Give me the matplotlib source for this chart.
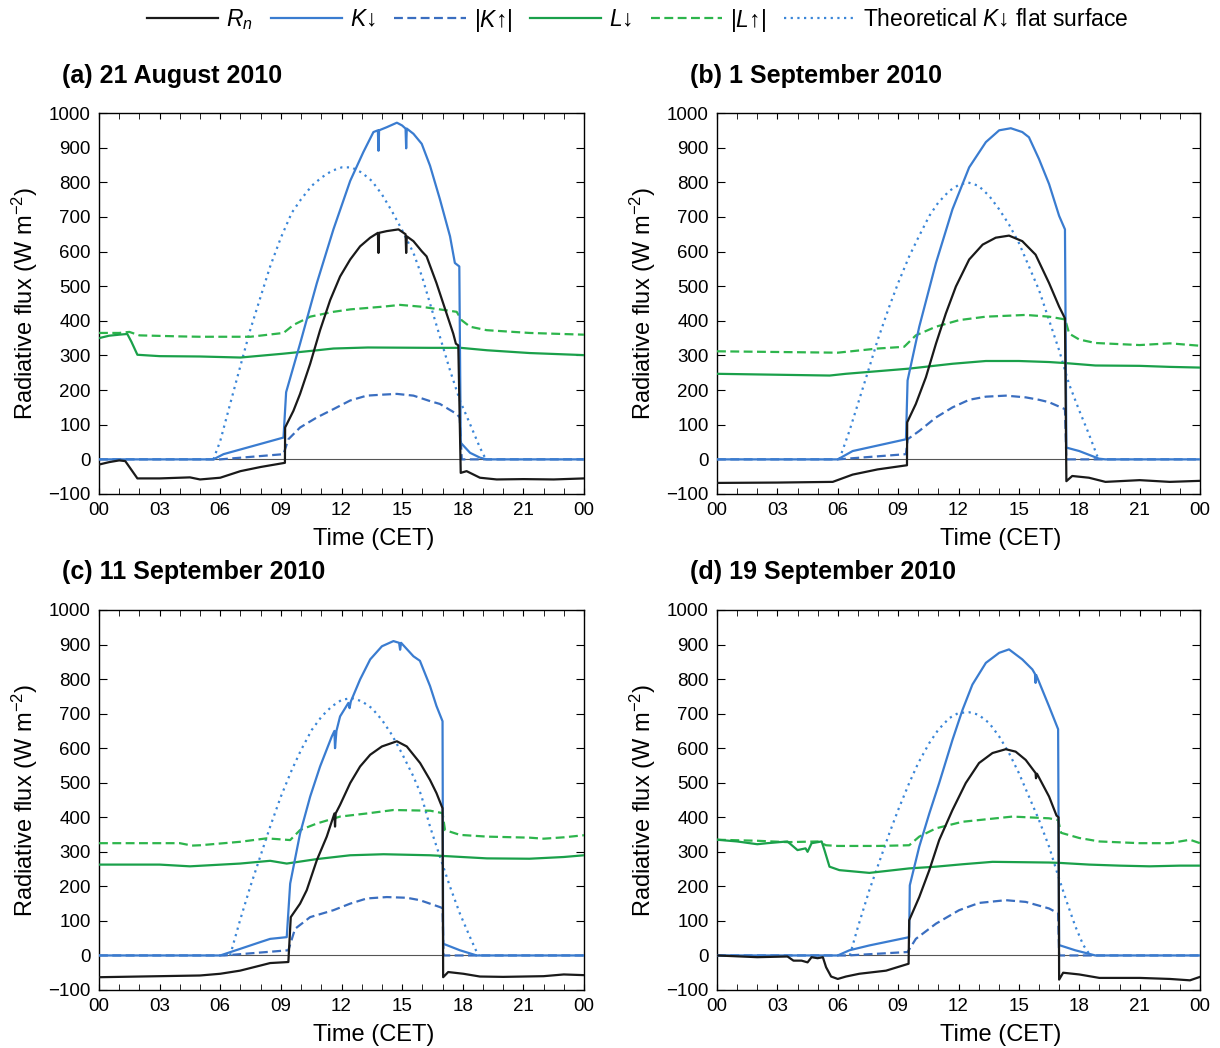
import matplotlib
matplotlib.use('Agg')
import matplotlib.pyplot as plt
from matplotlib.ticker import MultipleLocator
from matplotlib.lines import Line2D

plt.rcParams['font.family'] = ['Liberation Sans', 'DejaVu Sans']
plt.rcParams['mathtext.fontset'] = 'custom'
plt.rcParams['mathtext.rm'] = 'Liberation Sans'
plt.rcParams['mathtext.it'] = 'Liberation Sans:italic'

# ---- (a) 21 August 2010 ----
a_rn_t = [0, 0.5, 1.0, 1.3, 1.6, 1.9, 3, 4.5, 5.0, 6.0, 7.0, 8.0, 9.2, 9.21, 9.62, 9.95, 10.45, 10.94, 11.44,
          11.93, 12.43, 12.92, 13.42, 13.8, 13.83, 13.86, 14.24, 14.82, 15.17, 15.2, 15.23, 15.56, 15.97,
          16.21, 16.7, 17.2, 17.53, 17.66, 17.78, 17.9, 18.19, 18.85, 19.68, 21, 22.5, 24]
a_rn = [-15, -8, -3, -5, -30, -55, -55, -52, -58, -53, -34, -22, -10, 92, 140, 189, 276, 373, 460,
        528, 577, 615, 640, 654, 596, 654, 659, 664, 650, 596, 644, 630, 601,
        586, 509, 421, 363, 334, 329, -39, -34, -53, -58, -57, -58, -55]
a_k_t = [0, 5.66, 6.16, 9.13, 9.26, 9.95, 10.78, 11.6, 12.43, 13.08, 13.58, 13.8, 13.83, 13.86, 14.24, 14.74,
         15.0, 15.17, 15.2, 15.23, 15.56, 15.97, 16.38, 16.87, 17.37, 17.61, 17.83, 17.9, 18.36, 18.85, 19.18, 24]
a_k = [0, 0, 15, 63, 194, 334, 509, 664, 804, 887, 945, 950, 891, 950, 959, 972,
       964, 955, 898, 955, 940, 911, 848, 751, 644, 567, 557, 48, 19, 5, 0, 0]
a_ku_t = [0, 6.0, 9.13, 9.37, 9.95, 10.78, 11.6, 12.43, 13.25, 14.08, 14.74, 15.56, 16.39, 16.87, 17.7, 17.85, 17.95, 24]
a_ku = [0, 0, 15, 58, 92, 121, 145, 170, 184, 187, 189, 184, 168, 160, 131, 121, 0, 0]
a_th_t = [5.66, 6.0, 6.49, 6.98, 7.48, 8.0, 8.47, 9.0, 9.54, 10.0, 10.53, 11.02, 11.52, 12.01, 12.5, 13.0,
          13.5, 14.0, 14.49, 14.98, 15.56, 16.0, 16.38, 16.87, 17.37, 17.86, 18.36, 18.85, 19.1, 19.2]
a_th = [0, 53, 160, 266, 373, 470, 557, 640, 712, 751, 790, 814, 833, 843, 843, 828,
        804, 765, 717, 664, 596, 525, 450, 354, 257, 170, 102, 34, 5, 0]
a_ld_t = [0, 0.5, 1.0, 1.4, 1.6, 1.9, 3, 5, 7.0, 9.1, 10.8, 11.6, 13.3, 16.4, 17.9, 19.2, 21.3, 24]
a_ld = [350, 357, 360, 362, 340, 302, 298, 297, 294, 305, 315, 320, 323, 322, 322, 315, 307, 301]
a_lu_t = [0, 1.0, 1.5, 2.0, 4, 5.0, 7.5, 9.13, 9.62, 10.45, 11.6, 12.43, 14.08, 14.9, 15.9, 17.7, 17.94,
          18.36, 19.18, 21.3, 24]
a_lu = [365, 365, 368, 358, 355, 354, 354, 365, 388, 412, 426, 433, 441, 446, 441, 426, 402,
        383, 373, 365, 360]

# ---- (b) 1 September 2010 ----
b_rn_t = [0, 3, 5.75, 6.74, 7.98, 9.44, 9.45, 9.88, 10.38, 10.88, 11.37, 11.87, 12.53, 13.2, 13.85, 14.51,
          15.17, 15.83, 16.5, 17.0, 17.29, 17.36, 17.65, 18.48, 19.3, 21, 22.5, 24]
b_rn = [-68, -67, -65, -44, -29, -17, 107, 160, 237, 334, 421, 499, 577, 620, 640, 646,
        630, 591, 509, 441, 407, -63, -48, -53, -65, -60, -65, -62]
b_k_t = [0, 6.0, 6.74, 9.39, 9.47, 10.05, 10.88, 11.7, 12.53, 13.36, 14.02, 14.6, 15.17, 15.5, 16.0, 16.5,
         17.0, 17.29, 17.36, 18.0, 18.98, 19.3, 24]
b_k = [0, 0, 24, 58, 228, 383, 567, 722, 843, 916, 950, 956, 945, 930, 867, 795,
       703, 664, 34, 24, 2, 0, 0]
b_ku_t = [0, 6.0, 9.39, 9.47, 10.05, 10.88, 11.7, 12.53, 13.36, 14.35, 15.34, 16.0, 16.5, 17.29, 17.36, 24]
b_ku = [0, 0, 15, 58, 82, 121, 150, 172, 181, 184, 179, 172, 165, 145, 0, 0]
b_th_t = [6.08, 6.58, 7.0, 7.57, 7.98, 8.56, 9.0, 9.55, 10.0, 10.55, 10.99, 11.54, 12.0, 12.45, 12.99, 13.52,
          14.02, 14.51, 15.0, 15.5, 16.0, 16.5, 17.0, 17.49, 18.0, 18.48, 18.89, 19.0]
b_th = [0, 82, 160, 266, 344, 441, 509, 586, 640, 703, 741, 775, 792, 800, 790, 761,
        722, 678, 625, 557, 489, 402, 315, 218, 141, 73, 10, 0]
b_ld_t = [0, 5.6, 6.4, 9.55, 11.7, 13.36, 15.0, 16.5, 17.3, 18.8, 21, 22.5, 24]
b_ld = [247, 242, 247, 262, 276, 284, 284, 281, 278, 271, 270, 267, 265]
b_lu_t = [0, 3, 6.0, 7.98, 9.3, 9.88, 10.88, 12.03, 13.36, 14.18, 15.34, 16.5, 17.3, 17.5, 18.0, 18.8,
          21, 22.5, 24]
b_lu = [312, 310, 308, 320, 325, 358, 383, 402, 412, 414, 417, 412, 404, 363, 346, 336,
        330, 335, 328]

# ---- (c) 11 September 2010 ----
c_rn_t = [0, 3, 5.0, 6.0, 6.98, 8.0, 8.47, 9.37, 9.49, 9.95, 10.28, 10.78, 11.27, 11.65, 11.68, 11.71,
          11.93, 12.43, 12.92, 13.42, 14.0, 14.74, 15.23, 15.89, 16.38, 16.7, 17.0, 17.03, 17.28, 18.03,
          18.85, 20, 22, 23, 24]
c_rn = [-63, -60, -58, -53, -44, -29, -22, -19, 111, 150, 189, 276, 344, 411, 373, 411,
        436, 499, 547, 581, 605, 620, 605, 557, 508, 470, 426, -63, -48, -53,
        -61, -62, -60, -55, -57]
c_k_t = [0, 6.0, 6.98, 8.0, 8.47, 9.29, 9.46, 9.95, 10.45, 10.94, 11.52, 11.65, 11.68, 11.75, 11.93,
         12.34, 12.4, 12.46, 12.92, 13.42, 14.0, 14.57, 14.85, 14.9, 14.95, 15.56, 15.88, 16.38, 16.7,
         17.0, 17.03, 17.86, 18.69, 24]
c_k = [0, 0, 19, 39, 48, 53, 208, 353, 460, 547, 634, 650, 600, 650, 692,
       731, 716, 735, 799, 857, 895, 910, 905, 885, 905, 866, 853, 780, 722,
       678, 34, 15, 0, 0]
c_ku_t = [0, 6.2, 9.37, 9.7, 10.45, 11.6, 12.43, 13.25, 14.24, 15.23, 15.88, 16.87, 17.0, 17.05, 24]
c_ku = [0, 0, 15, 77, 111, 131, 150, 165, 169, 167, 160, 140, 137, 0, 0]
c_th_t = [6.49, 6.65, 6.98, 7.48, 8.0, 8.47, 9.0, 9.54, 10.0, 10.53, 11.02, 11.52, 12.01, 12.5, 13.0,
          13.5, 14.0, 14.49, 14.98, 15.56, 15.94, 16.38, 16.87, 17.37, 17.86, 18.36, 18.69, 18.8]
c_th = [0, 34, 102, 198, 290, 373, 460, 537, 595, 653, 692, 721, 740, 745, 736,
        716, 682, 639, 586, 518, 465, 373, 286, 199, 121, 53, 10, 0]
c_ld_t = [0, 3, 4.5, 6.98, 8.47, 9.29, 10.78, 12.43, 14.08, 16.39, 17.03, 19.2, 21.3, 23, 24]
c_ld = [263, 263, 258, 266, 274, 266, 279, 290, 293, 290, 288, 281, 280, 285, 290]
c_lu_t = [0, 2, 4, 4.6, 5.0, 6.98, 8.3, 9.46, 9.95, 10.78, 11.93, 13.25, 14.57, 16.39, 17.0, 17.12,
          17.86, 19.2, 21.3, 22, 23, 24]
c_lu = [325, 325, 325, 318, 319, 329, 339, 334, 363, 382, 402, 411, 421, 419, 412, 363,
        349, 344, 341, 338, 342, 348]

# ---- (d) 19 September 2010 ----
d_rn_t = [0, 2, 3.5, 3.8, 4.2, 4.5, 4.7, 5.0, 5.26, 5.42, 5.67, 6.0, 6.41, 7.07, 8.4, 9.52, 9.55, 10.05,
          10.55, 11.04, 11.7, 12.36, 13.02, 13.69, 14.35, 14.84, 15.34, 15.83, 15.85, 15.9, 16.5, 16.87,
          16.97, 17.0, 17.2, 18, 19, 21, 22.5, 23.5, 24]
d_rn = [0, -5, -3, -15, -15, -20, -5, -8, -5, -34, -61, -68, -61, -53, -44, -24, 102, 169,
        247, 334, 421, 499, 557, 586, 597, 590, 566, 528, 513, 526, 460, 405,
        400, -70, -50, -55, -65, -65, -68, -72, -62]
d_k_t = [0, 6.0, 6.58, 7.57, 9.55, 9.58, 10.05, 10.55, 11.04, 11.7, 12.2, 12.69, 13.36, 14.02, 14.51,
         15.17, 15.67, 15.8, 15.83, 15.86, 16.5, 16.95, 17.0, 17.8, 18.8, 24]
d_k = [0, 0, 15, 29, 53, 203, 315, 411, 499, 624, 711, 784, 847, 876, 886,
       857, 828, 815, 789, 812, 721, 655, 30, 15, 0, 0]
d_ku_t = [0, 6.5, 9.47, 9.88, 10.88, 12.03, 13.02, 14.35, 15.34, 16.5, 16.95, 17.0, 24]
d_ku = [0, 0, 10, 48, 92, 131, 152, 160, 155, 136, 122, 0, 0]
d_th_t = [6.6, 7.0, 7.57, 7.98, 8.56, 9.0, 9.55, 10.0, 10.55, 10.99, 11.54, 12.0, 12.53, 12.99, 13.52,
          14.02, 14.51, 15.0, 15.5, 16.0, 16.5, 16.9, 17.35, 17.8, 18.2, 18.55]
d_th = [0, 82, 189, 257, 353, 421, 499, 557, 615, 653, 687, 702, 704, 697, 673,
        634, 586, 528, 460, 392, 315, 240, 160, 85, 30, 0]
d_ld_t = [0, 1, 2, 2.5, 3.5, 4.0, 4.4, 4.5, 4.7, 5.2, 5.34, 5.59, 6.08, 7.57, 9.55, 10.88, 12.2, 13.69,
          16.5, 17.0, 18.5, 20, 21.5, 23, 24]
d_ld = [335, 330, 322, 325, 330, 305, 310, 300, 325, 330, 305, 257, 247, 239, 252, 257, 264, 271,
        269, 268, 263, 260, 258, 260, 260]
d_lu_t = [0, 2, 3.5, 5.0, 5.42, 6.0, 8.0, 9.55, 10.05, 10.88, 12.2, 13.36, 14.68, 16.5, 16.95, 17.1,
          18, 19, 21, 22.5, 23.5, 24]
d_lu = [335, 332, 328, 330, 319, 317, 317, 319, 344, 368, 387, 394, 402, 397, 392, 355,
        340, 330, 325, 325, 335, 325]

titles = ['(a) 21 August 2010', '(b) 1 September 2010', '(c) 11 September 2010', '(d) 19 September 2010']
xtick_labels = ['00', '03', '06', '09', '12', '15', '18', '21', '00']

labels = [r'$R_n$', r'$K$↓', r'|$K$↑|', r'$L$↓', r'|$L$↑|', r'Theoretical $K$↓ flat surface']
colors = ['#1a1a1a', '#3a7cd0', '#3a6ec0', '#1aa04a', '#2db54c', '#3a86d8']
styles = ['-', '-', (0, (4, 2)), '-', (0, (4, 2)), (0, (1, 2))]

panel_data = [
    [(a_rn_t, a_rn), (a_k_t, a_k), (a_ku_t, a_ku), (a_ld_t, a_ld), (a_lu_t, a_lu), (a_th_t, a_th)],
    [(b_rn_t, b_rn), (b_k_t, b_k), (b_ku_t, b_ku), (b_ld_t, b_ld), (b_lu_t, b_lu), (b_th_t, b_th)],
    [(c_rn_t, c_rn), (c_k_t, c_k), (c_ku_t, c_ku), (c_ld_t, c_ld), (c_lu_t, c_lu), (c_th_t, c_th)],
    [(d_rn_t, d_rn), (d_k_t, d_k), (d_ku_t, d_ku), (d_ld_t, d_ld), (d_lu_t, d_lu), (d_th_t, d_th)],
]

W, H = 1220, 1048
fig = plt.figure(figsize=(W / 100, H / 100), dpi=100)

# axes boxes in pixels: left, top, right, bottom
boxes = [(99, 113, 584, 494), (717, 113, 1200, 494), (99, 610, 584, 990), (717, 610, 1200, 990)]
title_pos = [(62, 76), (690, 76), (62, 572), (690, 572)]
xlabel_x = [0.567, 0.588, 0.567, 0.588]

# back to front: theoretical, |K up|, |L up|, L down, K down, Rn
draw_order = [5, 2, 4, 3, 1, 0]

for i, (l, t, r, b) in enumerate(boxes):
    ax = fig.add_axes([l / W, 1 - b / H, (r - l) / W, (b - t) / H])
    ax.axhline(0, color='#555555', lw=0.8, zorder=1)
    for z, j in enumerate(draw_order):
        xs, ys = panel_data[i][j]
        ax.plot(xs, ys, color=colors[j], linestyle=styles[j], lw=1.6, zorder=2 + z)
    ax.set_xlim(0, 24)
    ax.set_ylim(-100, 1000)
    ax.set_xticks(range(0, 25, 3))
    ax.set_xticklabels(xtick_labels)
    ax.xaxis.set_minor_locator(MultipleLocator(1))
    ax.set_yticks(range(-100, 1001, 100))
    ax.set_yticklabels(['−100'] + [str(v) for v in range(0, 1001, 100)])
    ax.tick_params(which='both', direction='in', top=True, right=True, labelsize=13.5, pad=6)
    ax.tick_params(axis='y', which='major', length=6)
    ax.tick_params(axis='x', which='both', length=4)
    for s in ax.spines.values():
        s.set_linewidth(1.0)
    ax.set_xlabel('Time (CET)', fontsize=17)
    ax.xaxis.set_label_coords(xlabel_x[i], -0.09)
    ax.set_ylabel('Radiative flux (W m$^{-2}$)', fontsize=17, labelpad=6)
    fig.text(title_pos[i][0] / W, 1 - title_pos[i][1] / H, titles[i], fontsize=18,
             fontweight='bold', ha='left', va='center')

handles = [Line2D([], [], color=colors[j], linestyle=styles[j], lw=1.6) for j in range(6)]
fig.legend(handles, labels, loc='center', bbox_to_anchor=(0.523, 1 - 20 / H), ncol=6, frameon=False,
           fontsize=16.5, handlelength=3.1, handletextpad=0.35, columnspacing=0.8)

fig.savefig('out.png', dpi=100)
